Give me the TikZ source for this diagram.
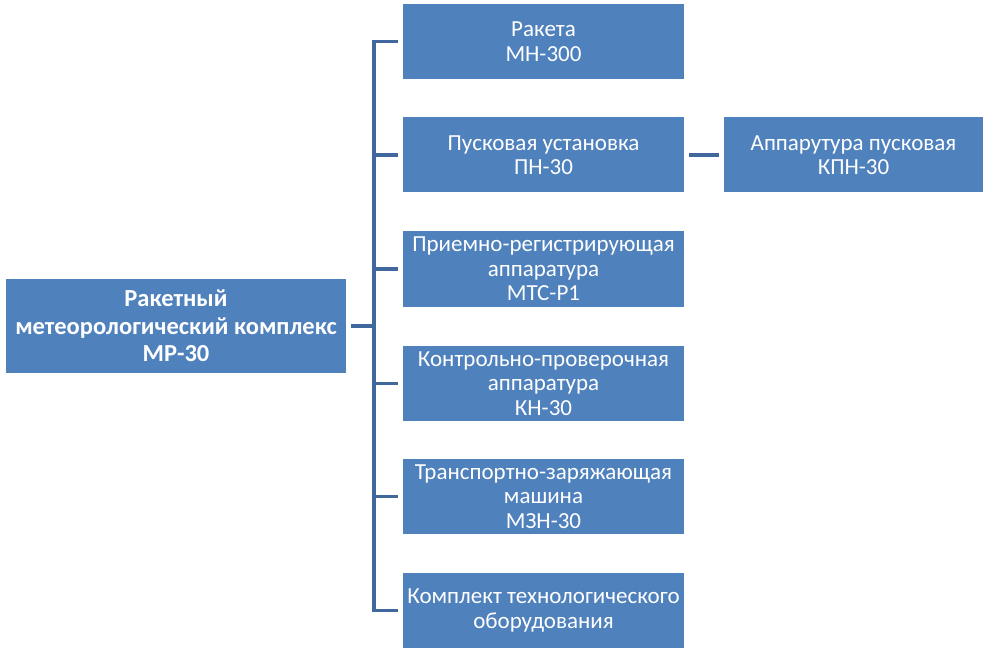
\documentclass[tikz,border=0pt]{standalone}
\usepackage{fontspec}
\setmainfont{Carlito}
\definecolor{boxblue}{RGB}{79,129,189}
\definecolor{lineblue}{RGB}{65,104,156}
\begin{document}
\begin{tikzpicture}[x=1pt,y=-1pt, line join=miter, line cap=butt,
    box/.style={fill=boxblue, text=white, align=center, inner sep=0pt, outer sep=5pt,
        minimum width=281pt, minimum height=75pt, font=\fontsize{23}{24.5}\selectfont},
    link/.style={draw=lineblue, line width=3.5pt}]
    %%Khung ảnh
    \useasboundingbox (0,0) rectangle (990,652);
    %%Các khối
    \node[box, minimum width=340pt, minimum height=94pt, font=\bfseries\fontsize{24.5}{27.5}\selectfont] (mr) at (176,326) {Ракетный\\метеорологический комплекс\\МР-30};
    \node[box] (rk) at (543.5,41.5) {Ракета\\МН-300};
    \node[box] (pu) at (543.5,155) {Пусковая установка\\ПН-30};
    \node[box] (pr) at (543.5,269) {Приемно-регистрирующая\\аппаратура\\МТС-Р1};
    \node[box] (kp) at (543.5,383.5) {Контрольно-проверочная\\аппаратура\\КН-30};
    \node[box] (tz) at (543.5,496.5) {Транспортно-заряжающая\\машина\\МЗН-30};
    \node[box] (kt) at (543.5,610.5) {Комплект технологического\\оборудования};
    \node[box, minimum width=259pt] (ap) at (853.5,155) {Аппарутура пусковая\\КПН-30};
    %%Đường nối
    \coordinate (trunk) at (374,326);
    \draw[link] (rk.west) -- (rk.west -| trunk) -- (kt.west -| trunk) -- (kt.west);
    \draw[link] (mr.east) -- (trunk);
    \foreach \b in {pu,pr,kp,tz}
        \draw[link] (\b.west -| trunk) -- (\b.west);
    \draw[link] (pu.east) -- (ap.west);
\end{tikzpicture}
\end{document}
